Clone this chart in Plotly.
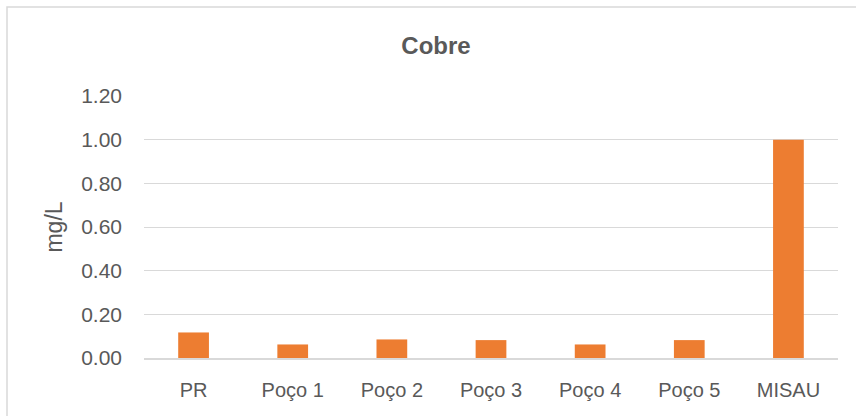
import plotly.graph_objects as go

categories = ["PR", "Poço 1", "Poço 2", "Poço 3", "Poço 4", "Poço 5", "MISAU"]
values = [0.117, 0.062, 0.085, 0.082, 0.062, 0.082, 1.00]
y_ticks = [0.0, 0.2, 0.4, 0.6, 0.8, 1.0, 1.2]
y_tick_labels = ["0.00", "0.20", "0.40", "0.60", "0.80", "1.00", "1.20"]

FONT = "Liberation Sans"
GRAY = "#595959"

fig = go.Figure(go.Bar(
    x=categories, y=values,
    marker=dict(color="#ED7D31", line=dict(width=0)),
    width=0.31,
))

W, H = 856, 416
L, R, T, B = 144, 18, 96, 58
pw = W - L - R
ph = H - T - B

fig.update_layout(
    width=W, height=H,
    margin=dict(l=L, r=R, t=T, b=B),
    paper_bgcolor="white", plot_bgcolor="white",
    showlegend=False,
    font=dict(family=FONT, color=GRAY, size=20),
    title=dict(text="<b>Cobre</b>", x=(436) / W, xanchor="center",
               y=1 - 46 / H, yanchor="middle",
               font=dict(family=FONT, size=24, color=GRAY)),
    xaxis=dict(showgrid=False, showline=True, linecolor="#D9D9D9", linewidth=2,
               ticks="", tickfont=dict(size=20, color=GRAY), ticklabelstandoff=13),
    yaxis=dict(range=[0, 1.2], tickvals=y_ticks, ticktext=y_tick_labels,
               showgrid=True, gridcolor="#D9D9D9", gridwidth=1,
               zeroline=False, showline=False, ticks="",
               tickfont=dict(size=21, color=GRAY), ticklabelstandoff=21,
               title=dict(text="mg/L", font=dict(size=23, color=GRAY), standoff=12)),
    shapes=[dict(type="rect", xref="paper", yref="paper",
                 x0=(7 - L) / pw, x1=(W + 10 - L) / pw,
                 y0=-(H - ph - T + 20) / ph, y1=(H - B - 7) / ph,
                 line=dict(color="#D9D9D9", width=1.5), fillcolor="rgba(0,0,0,0)",
                 layer="below")],
)

fig.write_html("out.html",
               config={"displayModeBar": False, "staticPlot": True},
               post_script="document.body.style.margin='0';document.body.style.overflow='hidden';")
